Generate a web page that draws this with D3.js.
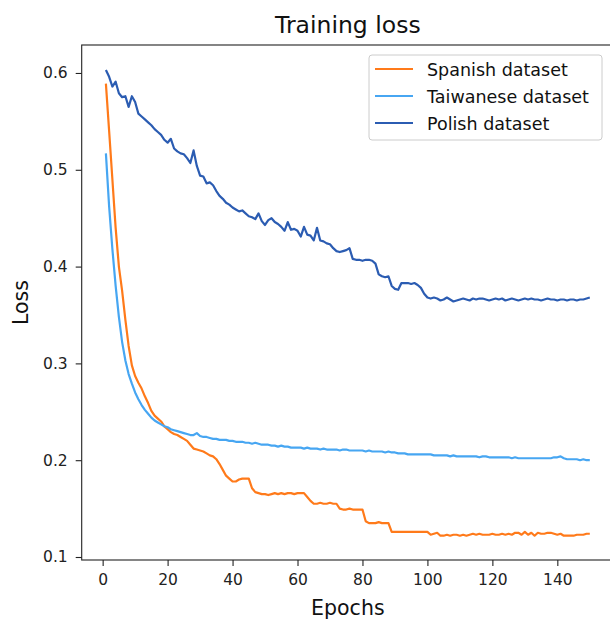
<!DOCTYPE html>
<html>
<head>
<meta charset="utf-8">
<script src="https://cdn.jsdelivr.net/npm/d3@7"></script>
<style>
  body { margin: 0; background: #fff; }
  svg { display: block; font-family: "DejaVu Sans", sans-serif; }
</style>
</head>
<body>
<svg id="chart" width="610" height="620"></svg>
<script>
// Training loss per epoch for the three credit datasets
const spanish = [
  0.589, 0.540, 0.490, 0.440, 0.400, 0.375, 0.345, 0.318, 0.298, 0.287,
  0.280, 0.274, 0.266, 0.259, 0.251, 0.246, 0.243, 0.240, 0.235, 0.232,
  0.229, 0.227, 0.226, 0.224, 0.222, 0.220, 0.216, 0.212, 0.211, 0.210,
  0.209, 0.207, 0.205, 0.204, 0.201, 0.196, 0.190, 0.184, 0.181, 0.178,
  0.178, 0.180, 0.181, 0.181, 0.181, 0.171, 0.167, 0.166, 0.165, 0.165,
  0.164, 0.165, 0.166, 0.165, 0.166, 0.165, 0.166, 0.166, 0.165, 0.166,
  0.166, 0.166, 0.162, 0.158, 0.155, 0.155, 0.156, 0.155, 0.155, 0.156,
  0.155, 0.155, 0.150, 0.149, 0.149, 0.150, 0.149, 0.149, 0.149, 0.149,
  0.137, 0.135, 0.135, 0.135, 0.136, 0.135, 0.135, 0.135, 0.126, 0.126,
  0.126, 0.126, 0.126, 0.126, 0.126, 0.126, 0.126, 0.126, 0.126, 0.126,
  0.123, 0.124, 0.125, 0.122, 0.122, 0.123, 0.122, 0.123, 0.123, 0.122,
  0.123, 0.122, 0.123, 0.124, 0.123, 0.124, 0.123, 0.123, 0.123, 0.124,
  0.123, 0.123, 0.124, 0.123, 0.124, 0.123, 0.125, 0.125, 0.123, 0.126,
  0.123, 0.125, 0.122, 0.125, 0.124, 0.124, 0.125, 0.125, 0.124, 0.123,
  0.124, 0.122, 0.122, 0.122, 0.122, 0.123, 0.123, 0.123, 0.124, 0.124
];

const taiwanese = [
  0.517, 0.462, 0.418, 0.380, 0.348, 0.322, 0.303, 0.289, 0.279, 0.270,
  0.263, 0.257, 0.252, 0.248, 0.244, 0.241, 0.239, 0.237, 0.235, 0.234,
  0.232, 0.231, 0.230, 0.229, 0.228, 0.227, 0.226, 0.226, 0.228, 0.225,
  0.224, 0.224, 0.223, 0.222, 0.222, 0.221, 0.221, 0.221, 0.220, 0.220,
  0.219, 0.219, 0.219, 0.218, 0.218, 0.217, 0.218, 0.217, 0.216, 0.216,
  0.216, 0.215, 0.215, 0.214, 0.215, 0.214, 0.214, 0.213, 0.213, 0.213,
  0.213, 0.212, 0.213, 0.212, 0.212, 0.212, 0.211, 0.212, 0.211, 0.211,
  0.211, 0.211, 0.210, 0.211, 0.211, 0.210, 0.210, 0.210, 0.210, 0.210,
  0.209, 0.210, 0.209, 0.209, 0.209, 0.209, 0.208, 0.209, 0.208, 0.208,
  0.207, 0.207, 0.207, 0.206, 0.206, 0.206, 0.206, 0.206, 0.206, 0.206,
  0.206, 0.205, 0.205, 0.205, 0.205, 0.205, 0.204, 0.205, 0.204, 0.204,
  0.204, 0.204, 0.204, 0.204, 0.204, 0.203, 0.204, 0.204, 0.203, 0.203,
  0.203, 0.203, 0.203, 0.203, 0.203, 0.202, 0.203, 0.202, 0.202, 0.202,
  0.202, 0.202, 0.202, 0.202, 0.202, 0.202, 0.202, 0.202, 0.203, 0.203,
  0.204, 0.202, 0.201, 0.201, 0.201, 0.201, 0.200, 0.201, 0.200, 0.200
];

const polish = [
  0.603, 0.596, 0.586, 0.591, 0.579, 0.575, 0.576, 0.565, 0.576, 0.570,
  0.558, 0.555, 0.552, 0.549, 0.546, 0.542, 0.539, 0.536, 0.531, 0.528,
  0.532, 0.522, 0.519, 0.517, 0.516, 0.512, 0.507, 0.520, 0.504, 0.494,
  0.493, 0.486, 0.487, 0.484, 0.478, 0.473, 0.470, 0.466, 0.464, 0.461,
  0.459, 0.457, 0.458, 0.455, 0.452, 0.451, 0.449, 0.455, 0.447, 0.443,
  0.448, 0.450, 0.446, 0.444, 0.441, 0.437, 0.446, 0.438, 0.439, 0.437,
  0.431, 0.441, 0.433, 0.432, 0.427, 0.440, 0.427, 0.426, 0.424, 0.423,
  0.419, 0.416, 0.415, 0.416, 0.417, 0.419, 0.408, 0.407, 0.407, 0.406,
  0.407, 0.407, 0.406, 0.403, 0.392, 0.390, 0.389, 0.390, 0.380, 0.377,
  0.376, 0.383, 0.383, 0.383, 0.382, 0.383, 0.381, 0.378, 0.372, 0.368,
  0.367, 0.368, 0.367, 0.365, 0.366, 0.368, 0.366, 0.364, 0.365, 0.366,
  0.367, 0.366, 0.365, 0.367, 0.366, 0.367, 0.367, 0.366, 0.365, 0.366,
  0.367, 0.366, 0.367, 0.365, 0.366, 0.367, 0.366, 0.365, 0.366, 0.367,
  0.366, 0.367, 0.366, 0.366, 0.365, 0.366, 0.367, 0.366, 0.366, 0.365,
  0.366, 0.366, 0.365, 0.366, 0.366, 0.365, 0.366, 0.366, 0.367, 0.368
];

const epochs = d3.range(1, spanish.length + 1);
const xTicks = [0, 20, 40, 60, 80, 100, 120, 140];
const yTicks = [0.1, 0.2, 0.3, 0.4, 0.5, 0.6];

const seriesNames = ["Spanish dataset", "Taiwanese dataset", "Polish dataset"];
const seriesColors = ["#ff7a1a", "#47a6f2", "#2b5cb2"];
const seriesValues = [spanish, taiwanese, polish];

// plot frame
const frame = { left: 81.7, right: 614, top: 45, bottom: 560 };

const svg = d3.select("#chart");
svg.append("rect").attr("width", 610).attr("height", 620).attr("fill", "#fff");

const x = d3.scaleLinear().domain([-6.45, 157.45]).range([frame.left, frame.right]);
const y = d3.scaleLinear().domain([0.0969, 0.6289]).range([frame.bottom, frame.top]);

svg.append("defs").append("clipPath").attr("id", "plotClip")
  .append("rect").attr("x", frame.left).attr("y", frame.top)
  .attr("width", frame.right - frame.left).attr("height", frame.bottom - frame.top);

// series lines
const line = d3.line()
  .x((d, i) => x(epochs[i]))
  .y(d => y(d));

const plot = svg.append("g").attr("clip-path", "url(#plotClip)");
seriesValues.forEach((vals, k) => {
  plot.append("path")
    .datum(vals)
    .attr("fill", "none")
    .attr("stroke", seriesColors[k])
    .attr("stroke-width", 2.2)
    .attr("stroke-linejoin", "round")
    .attr("stroke-linecap", "butt")
    .attr("d", line);
});

// axes
const xAxis = d3.axisBottom(x).tickValues(xTicks).tickSize(6).tickPadding(4)
  .tickFormat(d3.format("d"));
const yAxis = d3.axisLeft(y).tickValues(yTicks).tickSize(6).tickPadding(8)
  .tickFormat(d3.format(".1f"));

const gx = svg.append("g").attr("transform", `translate(0,${frame.bottom})`).call(xAxis);
const gy = svg.append("g").attr("transform", `translate(${frame.left},0)`).call(yAxis);

[gx, gy].forEach(g => {
  g.select(".domain").remove();
  g.selectAll(".tick line").attr("stroke", "#222").attr("stroke-width", 1.1);
  g.selectAll(".tick text").attr("fill", "#222")
    .style("font-family", "'DejaVu Sans', sans-serif").style("font-size", "15.5px");
});
gx.selectAll(".tick text").attr("dy", "0.95em");

// frame spines
svg.append("rect")
  .attr("x", frame.left).attr("y", frame.top)
  .attr("width", frame.right - frame.left).attr("height", frame.bottom - frame.top)
  .attr("fill", "none").attr("stroke", "#222").attr("stroke-width", 1.1);

// title and axis labels
const midX = (frame.left + frame.right) / 2;
const midY = (frame.top + frame.bottom) / 2;

svg.append("text")
  .attr("x", midX).attr("y", 33)
  .attr("text-anchor", "middle").attr("fill", "#111")
  .style("font-size", "23.5px")
  .text("Training loss");

svg.append("text")
  .attr("x", midX).attr("y", 615)
  .attr("text-anchor", "middle").attr("fill", "#111")
  .style("font-size", "20.5px")
  .text("Epochs");

svg.append("text")
  .attr("transform", `translate(28,${midY}) rotate(-90)`)
  .attr("text-anchor", "middle").attr("fill", "#111")
  .style("font-size", "20.5px")
  .text("Loss");

// legend
const legend = svg.append("g");
legend.append("rect")
  .attr("x", 369).attr("y", 55).attr("width", 233).attr("height", 85)
  .attr("rx", 3).attr("ry", 3)
  .attr("fill", "#fff").attr("fill-opacity", 0.8)
  .attr("stroke", "#cccccc").attr("stroke-width", 1);

const legendRowY = [69, 96, 123];
seriesNames.forEach((name, k) => {
  legend.append("line")
    .attr("x1", 375).attr("x2", 413)
    .attr("y1", legendRowY[k]).attr("y2", legendRowY[k])
    .attr("stroke", seriesColors[k]).attr("stroke-width", 2.2);
  legend.append("text")
    .attr("x", 427).attr("y", legendRowY[k] + 6.6)
    .attr("fill", "#111")
    .style("font-size", "17.5px")
    .text(name);
});
</script>
</body>
</html>
